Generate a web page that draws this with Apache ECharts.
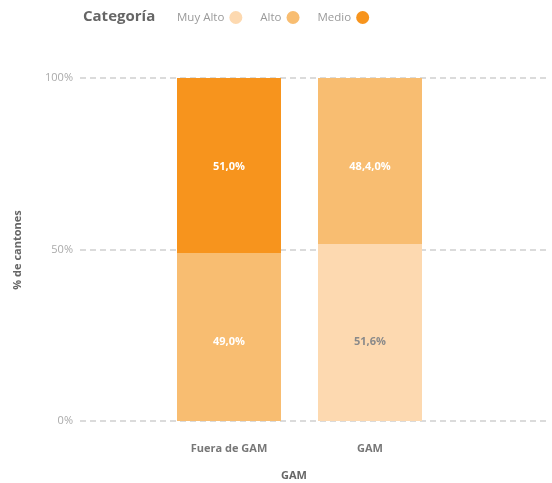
<!DOCTYPE html>
<html>
<head>
<meta charset="utf-8">
<script src="https://cdn.jsdelivr.net/npm/echarts@6/dist/echarts.min.js"></script>
<style>
  html, body { margin: 0; padding: 0; background: #fff; }
  #chart { width: 552px; height: 483px; }
</style>
</head>
<body>
<div id="chart"></div>
<script>
// Share of cantons per risk category, GAM vs. outside GAM
var categories = ['Fuera de GAM', 'GAM'];
var seriesNames = ['Muy Alto', 'Alto', 'Medio'];
var muyAlto = [null, 51.6];
var alto = [49.0, 48.4];
var medio = [51.0, null];
var muyAltoLabels = ['', '51,6%'];
var altoLabels = ['49,0%', '48,4,0%'];
var medioLabels = ['51,0%', ''];
var yTicks = ['0%', '50%', '100%'];

var colors = ['#FDD9B0', '#F8BD71', '#F7941D'];
var labelColors = ['#8a8a8a', '#ffffff', '#ffffff'];
var FONT = 'Open Sans';

var values = [muyAlto, alto, medio];
var labels = [muyAltoLabels, altoLabels, medioLabels];

// Lower segment of each stack gets its label near the bottom, upper one near the top
function buildData(si) {
  return values[si].map(function (v, ci) {
    var lowest = true;
    for (var k = 0; k < si; k++) { if (values[k][ci] != null) lowest = false; }
    return {
      value: v,
      label: lowest
        ? { position: 'insideBottom', distance: 74 }
        : { position: 'insideTop', distance: 83 }
    };
  });
}

var series = seriesNames.map(function (name, si) {
  return {
    name: name,
    type: 'bar',
    stack: 'total',
    xAxisIndex: 0,
    yAxisIndex: 0,
    barWidth: 104,
    itemStyle: { color: colors[si] },
    label: {
      show: true,
      color: labelColors[si],
      fontFamily: FONT,
      fontWeight: 'bold',
      fontSize: 11,
      formatter: function (p) { return labels[si][p.dataIndex]; }
    },
    data: buildData(si)
  };
});

var chart = echarts.init(document.getElementById('chart'));
chart.setOption({
  animation: false,
  textStyle: { fontFamily: FONT },
  legend: {
    data: seriesNames,
    left: 172,
    top: 6,
    align: 'right',
    icon: 'circle',
    itemWidth: 13,
    itemHeight: 13,
    itemGap: 18,
    textStyle: { color: '#9a9a9a', fontSize: 11.5, fontFamily: FONT }
  },
  graphic: [
    {
      type: 'text', left: 83, top: 9,
      style: { text: 'Categoría', fill: '#666', font: 'bold 15px "Open Sans"' }
    },
    {
      type: 'text', x: 18, y: 250, rotation: Math.PI / 2,
      style: { text: '% de cantones', fill: '#666', font: 'bold 11px "Open Sans"',
               align: 'center', verticalAlign: 'middle' }
    },
    {
      type: 'text', x: 294, y: 476,
      style: { text: 'GAM', fill: '#666', font: 'bold 11px "Open Sans"',
               align: 'center', verticalAlign: 'middle' }
    }
  ],
  grid: [
    { left: 158.5, right: 111.5, top: 78, bottom: 62 },
    { left: 80, right: 4, top: 78, bottom: 62 }
  ],
  xAxis: [
    {
      gridIndex: 0, type: 'category', data: categories,
      axisLine: { show: false }, axisTick: { show: false },
      axisLabel: { color: '#777', fontWeight: 'bold', fontSize: 11, margin: 22, fontFamily: FONT }
    },
    { gridIndex: 1, type: 'value', show: false }
  ],
  yAxis: [
    {
      gridIndex: 0, type: 'value', min: 0, max: 100, interval: 50,
      show: false, splitLine: { show: false }
    },
    {
      gridIndex: 1, type: 'value', min: 0, max: 100, interval: 50,
      axisLine: { show: false }, axisTick: { show: false },
      axisLabel: {
        color: '#aaa', fontSize: 11, margin: 7, fontFamily: FONT,
        formatter: function (v) { return yTicks[v / 50]; }
      },
      splitLine: { lineStyle: { color: '#cfcfcf', width: 1.5, type: [6, 4] } }
    }
  ],
  series: series
});
</script>
</body>
</html>
